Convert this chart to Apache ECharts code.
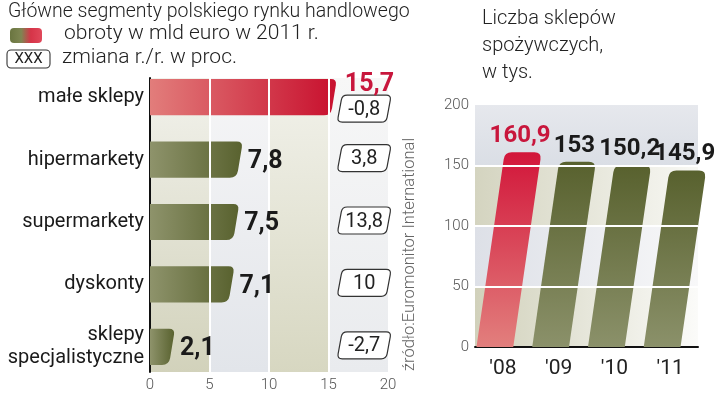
<!DOCTYPE html>
<html>
<head>
<meta charset="utf-8">
<script src="https://cdn.jsdelivr.net/npm/echarts@6/dist/echarts.min.js"></script>
<style>
  html, body { margin: 0; padding: 0; background: #fff; }
  #chart { width: 720px; height: 395px; }
</style>
</head>
<body>
<div id="chart"></div>
<script>
// lewy panel: obroty w 2011 (mld euro) i zmiana r/r (%)
const segments = ['małe sklepy', 'hipermarkety', 'supermarkety', 'dyskonty', 'sklepy\nspecjalistyczne'];
const turnover = [15.7, 7.8, 7.5, 7.1, 2.1];
const yoyChange = [-0.8, 3.8, 13.8, 10, -2.7];
const turnoverTicks = [0, 5, 10, 15, 20];

// prawy panel: liczba sklepów spożywczych (tys.)
const years = ["'08", "'09", "'10", "'11"];
const shopCount = [160.9, 153, 150.2, 145.9];
const shopTicks = [0, 50, 100, 150, 200];

const RED = '#c8163c';
const TXT = 'Roboto, "Noto Sans", sans-serif';
const NUM = 'bold 25px Roboto, "Noto Sans", sans-serif';
const NUM_R = 'bold 24px Roboto, "Noto Sans", sans-serif';
const pl = v => String(v).replace('.', ',');

const grad = (x2, y2, c0, c1) => new echarts.graphic.LinearGradient(0, 0, x2, y2, [
  { offset: 0, color: c0 }, { offset: 1, color: c1 }
]);

// polygon with rounded corners, radius per corner
function roundedPoly(pts, radii) {
  const n = pts.length;
  let d = '';
  for (let i = 0; i < n; i++) {
    const p = pts[i], a = pts[(i + n - 1) % n], b = pts[(i + 1) % n];
    const da = Math.hypot(a[0] - p[0], a[1] - p[1]);
    const db = Math.hypot(b[0] - p[0], b[1] - p[1]);
    const ra = Math.min(radii[i], da / 2), rb = Math.min(radii[i], db / 2);
    const s = [p[0] + (a[0] - p[0]) * ra / da, p[1] + (a[1] - p[1]) * ra / da];
    const e = [p[0] + (b[0] - p[0]) * rb / db, p[1] + (b[1] - p[1]) * rb / db];
    d += (i === 0 ? 'M' : 'L') + s[0] + ' ' + s[1] + ' Q' + p[0] + ' ' + p[1] + ' ' + e[0] + ' ' + e[1] + ' ';
  }
  return d + 'Z';
}

function textEl(x, y, text, font, fill, align, valign) {
  return {
    type: 'text', x: x, y: y,
    style: { text: text, font: font, fill: fill, align: align, textAlign: align, verticalAlign: valign, textVerticalAlign: valign }
  };
}

function renderTurnover(params, api) {
  const v = api.value(0), idx = api.value(1);
  const p0 = api.coord([0, idx]), p1 = api.coord([v, idx]);
  const h = api.size([0, 1])[1] * 0.58;
  const top = p0[1] - h / 2, bot = p0[1] + h / 2;
  const x0 = p0[0], x1 = p1[0], slant = 6;
  const fill = idx === 0 ? grad(1, 0, '#e27d7b', '#c8102e') : grad(1, 0, '#8e936b', '#59622f');
  return {
    type: 'path',
    shape: { pathData: roundedPoly([[x0, top], [x1, top], [x1 - slant, bot], [x0, bot]], [0, 6, 7, 0]) },
    style: { fill: fill }
  };
}

// value labels sit above the white grid lines
function renderTurnoverLabel(params, api) {
  const v = api.value(0), idx = api.value(1);
  const p1 = api.coord([v, idx]);
  if (idx === 0) return textEl(p1[0] + 8, p1[1] - 12, pl(v), NUM, RED, 'left', 'middle');
  return textEl(p1[0] + 5, p1[1] + 2, pl(v), NUM, '#1a1a1a', 'left', 'middle');
}

function renderChange(params, api) {
  const idx = api.value(0), v = api.value(1);
  const c = api.coord([18, idx]);
  const cy = c[1] + (idx === 0 ? 11.5 : -1.5);
  const w = 49, h = 27, s = 5;
  const top = cy - h / 2, bot = cy + h / 2;
  return {
    type: 'group',
    children: [{
      type: 'path',
      shape: { pathData: roundedPoly([
        [c[0] - w / 2 + s / 2, top], [c[0] + w / 2 + s / 2, top],
        [c[0] + w / 2 - s / 2, bot], [c[0] - w / 2 - s / 2, bot]], [5, 5, 5, 5]) },
      style: { fill: '#fff', stroke: '#333', lineWidth: 1.2 }
    }, textEl(c[0], cy + 1, pl(v), '20px ' + TXT, '#222', 'center', 'middle')]
  };
}

function renderShops(params, api) {
  const idx = api.value(0), v = api.value(1);
  const base = api.coord([idx, 0]), tip = api.coord([idx, v]);
  const w = api.size([1, 0])[0] * 0.66;
  const bx = base[0] - 8, tx = bx + 0.145 * (base[1] - tip[1]);
  const first = idx === 0;
  const fill = first ? grad(0, 1, '#d2163a', '#e27f7d') : grad(0, 1, '#58612e', '#8b916a');
  return {
    type: 'group',
    children: [{
      type: 'path',
      shape: { pathData: roundedPoly([
        [bx - w / 2, base[1]], [tx - w / 2, tip[1]], [tx + w / 2, tip[1]], [bx + w / 2, base[1]]], [0, 7, 7, 0]) },
      style: { fill: fill }
    }, textEl(tx - 3, tip[1] - 4, pl(v), NUM_R, first ? RED : '#1a1a1a', 'center', 'bottom')]
  };
}

const chart = echarts.init(document.getElementById('chart'));

chart.setOption({
  animation: false,
  backgroundColor: '#fff',
  grid: [
    { left: 150, right: 332, top: 78, bottom: 23 },
    { left: 150, right: 332, top: 66, bottom: 17 },
    { left: 475, right: 22, top: 105, bottom: 48 }
  ],
  xAxis: [
    {
      gridIndex: 0, type: 'value',
      min: turnoverTicks[0], max: turnoverTicks[turnoverTicks.length - 1],
      interval: turnoverTicks[1] - turnoverTicks[0],
      axisLine: { show: false }, axisTick: { show: false }, splitLine: { show: false },
      axisLabel: { color: '#555', fontSize: 15, fontFamily: TXT, fontWeight: 300, margin: 6 },
      splitArea: {
        show: true,
        areaStyle: {
          color: [
            grad(0, 1, '#f2f2ec', '#d2d2bb'),
            grad(0, 1, '#f6f6f7', '#e2e5ea'),
            grad(0, 1, '#f2f2eb', '#d7d7c1'),
            grad(0, 1, '#f7f7f7', '#e9ebee')
          ]
        }
      }
    },
    {
      gridIndex: 1, type: 'value', z: 5,
      min: turnoverTicks[0], max: turnoverTicks[turnoverTicks.length - 1],
      interval: turnoverTicks[1] - turnoverTicks[0],
      axisLine: { show: false }, axisTick: { show: false }, axisLabel: { show: false },
      splitLine: { show: true, showMinLine: false, showMaxLine: false, lineStyle: { color: '#fff', width: 2 } }
    },
    {
      gridIndex: 2, type: 'category', data: years,
      axisLine: { lineStyle: { color: '#111', width: 2 } }, axisTick: { show: false },
      axisLabel: { color: '#222', fontSize: 21, fontFamily: TXT, margin: 11 }
    }
  ],
  yAxis: [
    {
      gridIndex: 0, type: 'value', min: 0, max: 1,
      axisLine: { show: true, lineStyle: { color: '#111', width: 2 } },
      axisTick: { show: false }, axisLabel: { show: false }, splitLine: { show: false }
    },
    {
      gridIndex: 1, type: 'category', data: segments, inverse: true,
      axisLine: { show: false }, axisTick: { show: false },
      axisLabel: { color: '#1a1a1a', fontSize: 20, fontFamily: TXT, margin: 6, lineHeight: 23, align: 'right' }
    },
    {
      gridIndex: 2, type: 'value',
      min: shopTicks[0], max: shopTicks[shopTicks.length - 1], interval: shopTicks[1] - shopTicks[0],
      axisLine: { show: false }, axisTick: { show: false }, splitLine: { show: false },
      axisLabel: { color: '#555', fontSize: 15, fontFamily: TXT, fontWeight: 300, margin: 6 },
      splitArea: {
        show: true,
        areaStyle: {
          color: [
            grad(1, 0, '#d1d1bb', '#fbfbf9'),
            grad(1, 0, '#dde0e7', '#f8f8f9'),
            grad(1, 0, '#d4d4c0', '#f8f8f4'),
            grad(0, 1, '#e6e8ed', '#dadee5')
          ]
        }
      }
    },
    {
      gridIndex: 2, type: 'value', z: 5,
      min: shopTicks[0], max: shopTicks[shopTicks.length - 1], interval: shopTicks[1] - shopTicks[0],
      axisLine: { show: false }, axisTick: { show: false }, axisLabel: { show: false },
      splitLine: { show: true, showMinLine: false, showMaxLine: false, lineStyle: { color: '#fff', width: 2 } }
    }
  ],
  series: [
    {
      type: 'custom', xAxisIndex: 1, yAxisIndex: 1,
      data: turnover.map((v, i) => [v, i]),
      encode: { x: 0, y: 1 },
      renderItem: renderTurnover
    },
    {
      type: 'custom', xAxisIndex: 1, yAxisIndex: 1, z: 7,
      data: turnover.map((v, i) => [v, i]),
      encode: { x: 0, y: 1 },
      renderItem: renderTurnoverLabel
    },
    {
      type: 'custom', xAxisIndex: 1, yAxisIndex: 1, z: 6,
      data: yoyChange.map((v, i) => [i, v]),
      encode: { y: 0 },
      renderItem: renderChange
    },
    {
      type: 'custom', xAxisIndex: 2, yAxisIndex: 2,
      data: shopCount.map((v, i) => [i, v]),
      encode: { x: 0, y: 1 },
      renderItem: renderShops
    }
  ],
  graphic: [
    { type: 'text', x: 8, y: 2, style: { text: 'Główne segmenty polskiego rynku handlowego', font: '300 19.5px ' + TXT, fill: '#222' } },
    {
      type: 'rect', shape: { x: 10, y: 28, width: 32, height: 15, r: 4 },
      style: { fill: new echarts.graphic.LinearGradient(0, 0, 1, 0, [
        { offset: 0, color: '#6a7540' }, { offset: 0.35, color: '#7e8652' },
        { offset: 0.65, color: '#d63448' }, { offset: 1, color: '#e0485a' }]) }
    },
    { type: 'text', x: 64, y: 23, style: { text: 'obroty w mld euro w 2011 r.', font: '300 21px ' + TXT, fill: '#222' } },
    {
      type: 'rect', shape: { x: 7, y: 50, width: 43, height: 18, r: 4 },
      style: { fill: '#fff', stroke: '#333', lineWidth: 1.1 }
    },
    { type: 'text', x: 28.5, y: 59.5, style: { text: 'XXX', font: '15px ' + TXT, fill: '#222', align: 'center', verticalAlign: 'middle' } },
    { type: 'text', x: 62, y: 47, style: { text: 'zmiana r./r. w proc.', font: '300 21px ' + TXT, fill: '#222' } },
    {
      type: 'text', x: 410, y: 371, rotation: Math.PI / 2,
      style: { text: 'źródło:Euromonitor International', font: '300 16.5px ' + TXT, fill: '#666', align: 'left', verticalAlign: 'middle' }
    },
    {
      type: 'text', x: 482, y: 5,
      style: { text: 'Liczba sklepów\nspożywczych,\nw tys.', font: '300 20px ' + TXT, fill: '#222', lineHeight: 27 }
    }
  ]
});
</script>
</body>
</html>
